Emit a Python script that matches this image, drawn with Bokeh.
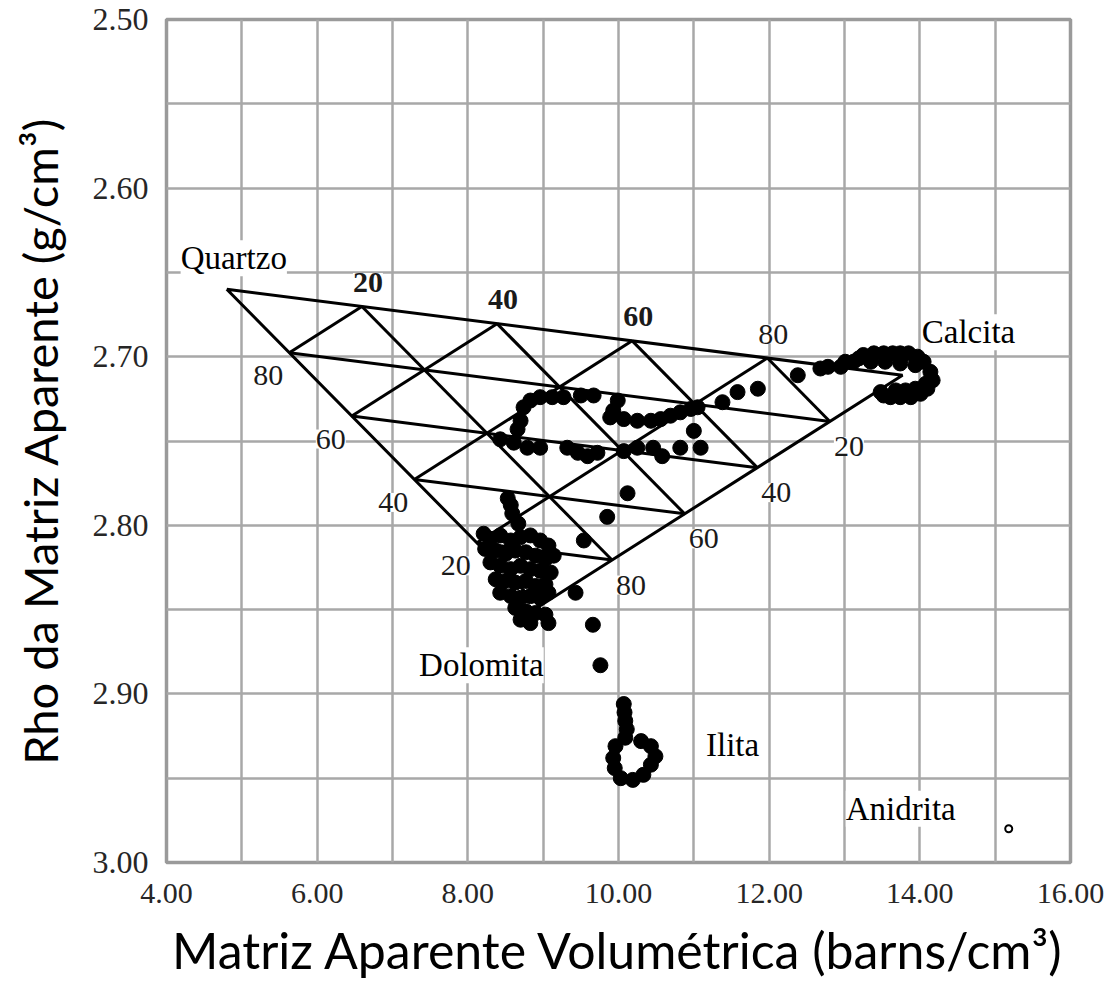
from bokeh.plotting import figure
from bokeh.models import Range1d, FixedTicker, NumeralTickFormatter, ColumnDataSource, LabelSet
from bokeh.core.properties import value
from bokeh.embed import file_html
from bokeh.resources import INLINE

# ---- Data -------------------------------------------------------------
# Ternary end-members (apparent matrix volumetric cross-section U, apparent matrix density)
end_names = ["Quartzo", "Calcita", "Dolomita"]
end_u = [4.80, 13.77, 8.95]
end_rho = [2.660, 2.711, 2.848]

# Other mineral points
ilita_u, ilita_rho = 10.20, 2.940
anidrita_u, anidrita_rho = 15.18, 2.980

grid_pct = [20, 40, 60, 80]

x_ticks = [4, 6, 8, 10, 12, 14, 16]
y_ticks = [2.50, 2.60, 2.70, 2.80, 2.90, 3.00]
x_grid = [5, 6, 7, 8, 9, 10, 11, 12, 13, 14, 15]
y_grid = [2.55, 2.60, 2.65, 2.70, 2.75, 2.80, 2.85, 2.90, 2.95]

# Well data points (Umaa, rhomaa)
calc_u = [12.38, 12.68, 12.78, 12.95, 13.12, 13.25, 13.39, 13.52, 13.64, 13.74, 13.85,
          13.97, 14.05, 14.14, 14.17, 14.10, 14.01, 13.88, 13.74, 13.61, 13.52, 13.48,
          13.35, 13.54, 13.74, 13.94, 13.68, 13.81, 13.94, 14.08, 13.01, 13.19]
calc_rho = [2.711, 2.707, 2.706, 2.706, 2.703, 2.699, 2.698, 2.698, 2.698, 2.698, 2.698,
            2.700, 2.703, 2.709, 2.714, 2.719, 2.722, 2.724, 2.724, 2.724, 2.723, 2.721,
            2.703, 2.703, 2.704, 2.705, 2.720, 2.720, 2.719, 2.716, 2.703, 2.701]

mid_u = [11.85, 11.58, 11.38, 8.74, 8.83, 8.96, 9.12, 9.27, 9.50, 9.67, 9.99, 9.93, 9.89,
         10.07, 10.25, 10.43, 10.56, 10.69, 10.82, 10.96, 11.05, 8.70, 8.66, 8.43, 8.61,
         8.79, 8.96, 9.32, 9.46, 9.59, 9.72, 10.07, 10.25, 10.46, 10.58, 10.82, 11.09,
         11.00, 10.12, 9.85, 9.54, 9.43, 9.66, 9.76]
mid_rho = [2.719, 2.721, 2.727, 2.730, 2.726, 2.724, 2.724, 2.724, 2.723, 2.723, 2.726, 2.732,
           2.736, 2.737, 2.738, 2.738, 2.737, 2.735, 2.733, 2.731, 2.730, 2.738, 2.743, 2.749,
           2.751, 2.754, 2.754, 2.754, 2.757, 2.759, 2.757, 2.756, 2.754, 2.754, 2.759, 2.754,
           2.754, 2.744, 2.781, 2.795, 2.809, 2.840, 2.859, 2.883]

dol_u = [8.53, 8.57, 8.59, 8.67, 8.21, 8.30, 8.43, 8.57, 8.70, 8.83, 8.96, 9.07, 8.23, 8.37,
         8.50, 8.63, 8.77, 8.90, 9.03, 9.14, 8.30, 8.43, 8.57, 8.70, 8.83, 8.96, 9.10, 8.37,
         8.50, 8.63, 8.77, 8.90, 9.03, 8.43, 8.57, 8.70, 8.83, 8.96, 9.07, 8.63, 8.77, 8.90,
         9.03, 8.70, 8.83, 9.07]
dol_rho = [2.784, 2.788, 2.793, 2.799, 2.805, 2.808, 2.806, 2.809, 2.807, 2.806, 2.809, 2.812,
           2.814, 2.815, 2.817, 2.815, 2.816, 2.818, 2.820, 2.818, 2.822, 2.824, 2.826, 2.824,
           2.826, 2.827, 2.828, 2.832, 2.833, 2.834, 2.833, 2.836, 2.835, 2.840, 2.842, 2.843,
           2.842, 2.843, 2.840, 2.849, 2.851, 2.852, 2.853, 2.856, 2.858, 2.858]

ili_u = [10.07, 10.08, 10.09, 10.11, 10.09, 9.96, 9.93, 9.95, 10.03, 10.19, 10.33, 10.43,
         10.49, 10.43, 10.30]
ili_rho = [2.906, 2.911, 2.916, 2.921, 2.926, 2.931, 2.938, 2.944, 2.950, 2.951, 2.948,
           2.942, 2.937, 2.931, 2.928]

# ---- Ternary geometry -------------------------------------------------
Q = (end_u[0], end_rho[0])
C = (end_u[1], end_rho[1])
D = (end_u[2], end_rho[2])


def lerp(a, b, t):
    return (a[0] + t * (b[0] - a[0]), a[1] + t * (b[1] - a[1]))


xs, ys = [], []
xs.append([Q[0], C[0], D[0], Q[0]])
ys.append([Q[1], C[1], D[1], Q[1]])
for k in grid_pct:
    f = k / 100.0
    a, b = lerp(Q, D, f), lerp(C, D, f)   # constant dolomite
    xs.append([a[0], b[0]]); ys.append([a[1], b[1]])
    a, b = lerp(Q, C, f), lerp(D, C, f)   # constant calcite
    xs.append([a[0], b[0]]); ys.append([a[1], b[1]])
    a, b = lerp(C, Q, f), lerp(D, Q, f)   # constant quartz
    xs.append([a[0], b[0]]); ys.append([a[1], b[1]])

top_pts = [lerp(Q, C, k / 100.0) for k in grid_pct]
left_pts = [lerp(Q, D, k / 100.0) for k in grid_pct]
right_pts = [lerp(C, D, k / 100.0) for k in grid_pct]

# ---- Figure -----------------------------------------------------------
p = figure(width=1105, height=991, output_backend="svg", toolbar_location=None,
           x_range=Range1d(4, 16), y_range=Range1d(3.0, 2.5))
p.min_border_left = 166
p.min_border_right = 35
p.min_border_top = 19
p.min_border_bottom = 129
p.background_fill_color = "white"
p.border_fill_color = "white"
p.outline_line_color = "#9a9a9a"
p.outline_line_width = 3.5

p.xgrid.ticker = FixedTicker(ticks=x_grid)
p.ygrid.ticker = FixedTicker(ticks=y_grid)
for g in (p.xgrid, p.ygrid):
    g.grid_line_color = "#a8a8a8"
    g.grid_line_width = 2.5

p.xaxis.ticker = FixedTicker(ticks=x_ticks)
p.yaxis.ticker = FixedTicker(ticks=y_ticks)
for ax in (p.xaxis, p.yaxis):
    ax.formatter = NumeralTickFormatter(format="0.00")
    ax.axis_line_color = None
    ax.major_tick_line_color = None
    ax.minor_tick_line_color = None
    ax.major_tick_out = 0
    ax.major_tick_in = 0
    ax.major_label_text_font = "Liberation Serif"
    ax.major_label_text_color = "#262626"
    ax.axis_label_text_font = "Lato"
    ax.axis_label_text_font_style = "normal"
    ax.axis_label_text_color = "black"

p.xaxis.axis_label_text_font_size = "50px"
p.yaxis.axis_label_text_font_size = "47px"
p.xaxis.major_label_text_font_size = "30px"
p.yaxis.major_label_text_font_size = "32px"
p.xaxis.major_label_standoff = 21
p.yaxis.major_label_standoff = 18
p.xaxis.axis_label_standoff = 14
p.yaxis.axis_label_standoff = 22
p.xaxis.axis_label = "Matriz Aparente Volumétrica (barns/cm³)"
p.yaxis.axis_label = "Rho da Matriz Aparente (g/cm³)"

# ternary grid
p.multi_line(xs, ys, line_color="black", line_width=3)

# data points
all_u = calc_u + mid_u + dol_u + ili_u
all_rho = calc_rho + mid_rho + dol_rho + ili_rho
p.scatter(all_u, all_rho, size=15, fill_color="black", line_color="black")
p.scatter([anidrita_u], [anidrita_rho], size=7, fill_color="white", line_color="black", line_width=2)

serif = value("Liberation Serif")

top_src = ColumnDataSource(dict(x=[pt[0] for pt in top_pts], y=[pt[1] for pt in top_pts],
                                t=[str(k) for k in grid_pct],
                                s=["bold", "bold", "bold", "normal"]))
p.add_layout(LabelSet(x="x", y="y", text="t", source=top_src, x_offset=6, y_offset=24,
                      text_font=serif, text_font_size="30px", text_font_style="s",
                      text_align="center", text_baseline="middle", text_color="#1a1a1a",
                      background_fill_color="white"))
left_src = ColumnDataSource(dict(x=[pt[0] for pt in left_pts], y=[pt[1] for pt in left_pts],
                                 t=[str(100 - k) for k in grid_pct]))
p.add_layout(LabelSet(x="x", y="y", text="t", source=left_src, x_offset=-21, y_offset=-23,
                      text_font=serif, text_font_size="30px",
                      text_align="center", text_baseline="middle", text_color="#1a1a1a",
                      background_fill_color="white"))
right_src = ColumnDataSource(dict(x=[pt[0] for pt in right_pts], y=[pt[1] for pt in right_pts],
                                  t=[str(k) for k in grid_pct]))
p.add_layout(LabelSet(x="x", y="y", text="t", source=right_src, x_offset=19, y_offset=-25,
                      text_font=serif, text_font_size="30px",
                      text_align="center", text_baseline="middle", text_color="#1a1a1a",
                      background_fill_color="white"))

min_src = ColumnDataSource(dict(
    x=[Q[0], C[0], D[0], ilita_u, anidrita_u],
    y=[Q[1], C[1], D[1], ilita_rho, anidrita_rho],
    t=["Quartzo", "Calcita", "Dolomita", "Ilita", "Anidrita"],
    dx=[7, 66, -58, 99, -108],
    dy=[31, 43, -59, 16, 20]))
p.add_layout(LabelSet(x="x", y="y", text="t", source=min_src, x_offset="dx", y_offset="dy",
                      text_font=serif, text_font_size="33px", text_color="black",
                      text_align="center", text_baseline="middle",
                      background_fill_color="white"))

open("out.html", "w").write(file_html(p, INLINE))
